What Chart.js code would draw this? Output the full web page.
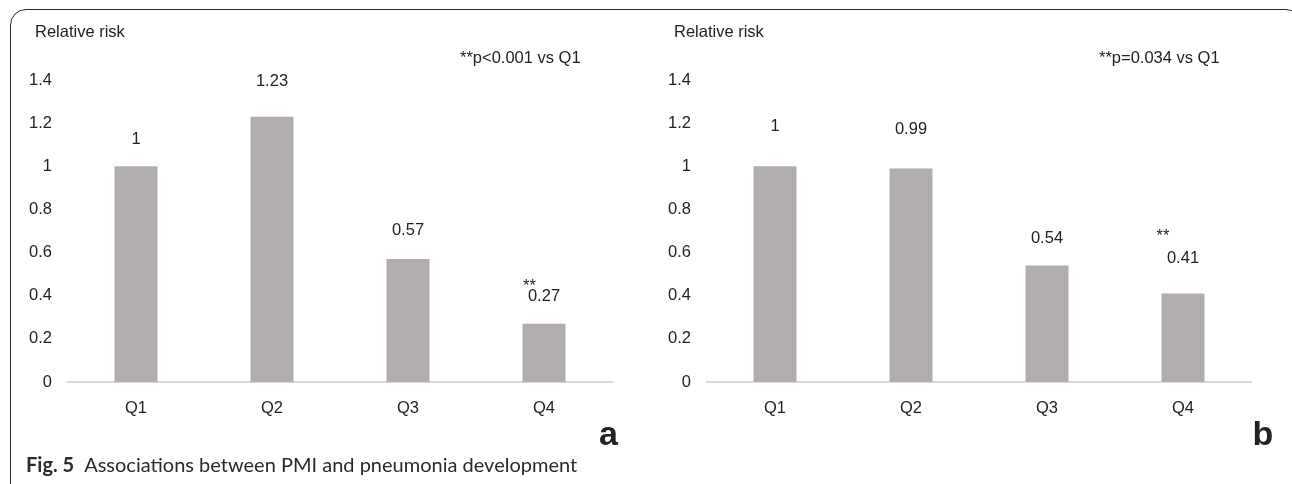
<!DOCTYPE html>
<html>
<head>
<meta charset="utf-8">
<title>Associations between PMI and pneumonia development</title>
<script src="https://cdn.jsdelivr.net/npm/chart.js@4.4.1/dist/chart.umd.min.js"></script>
<style>
  html, body { margin: 0; padding: 0; background: #ffffff; }
  body { width: 1292px; height: 484px; position: relative; overflow: hidden; }
  .frame {
    position: absolute; left: 10px; top: 9px; width: 1292px; height: 520px;
    border: 1.5px solid #2e2e2e; border-radius: 16px; box-sizing: border-box;
  }
  .panel { position: absolute; top: 0; width: 646px; height: 484px; }
  #panelA { left: 0; }
  #panelB { left: 639px; }
</style>
</head>
<body>
<div class="frame"></div>
<div class="panel" id="panelA"><canvas id="chartA" width="646" height="484"></canvas></div>
<div class="panel" id="panelB"><canvas id="chartB" width="646" height="484"></canvas></div>
<script>
// Quartile groups and relative risks of pneumonia
const categories = ['Q1', 'Q2', 'Q3', 'Q4'];
const riskA = [1, 1.23, 0.57, 0.27];
const riskB = [1, 0.99, 0.54, 0.41];
const sigA = ['', '', '', '**'];
const sigB = ['', '', '', '**'];
const noteA = '**p<0.001 vs Q1';
const noteB = '**p=0.034 vs Q1';
const yTickValues = [0, 0.2, 0.4, 0.6, 0.8, 1, 1.2, 1.4];
const axisTitle = 'Relative risk';
const captionBold = 'Fig. 5';
const captionText = 'Associations between PMI and pneumonia development';

// Label placement above each bar (px between bar top and text baseline)
const liftA = [22, 31, 24, 23];
const liftB = [35, 34.5, 22.5, 30.5];

const TEXT = '#222222';
const BAR = '#b1adac';
const AXIS = '#d9d9d9';
const FONT = '"Liberation Sans", Arial, Helvetica, sans-serif';

const annotate = {
  id: 'annotate',
  afterDraw(chart, args, o) {
    const ctx = chart.ctx;
    const ca = chart.chartArea;
    const meta = chart.getDatasetMeta(0);
    ctx.save();
    ctx.fillStyle = TEXT;
    ctx.font = '16.5px ' + FONT;
    ctx.textAlign = 'center';
    ctx.textBaseline = 'alphabetic';
    meta.data.forEach((bar, i) => {
      const v = chart.data.datasets[0].data[i];
      ctx.fillText(String(v), bar.x, bar.y - o.lift[i]);
      if (o.sig[i]) ctx.fillText(o.sig[i], bar.x + o.sigDx, bar.y - o.sigLift);
    });
    ctx.textAlign = 'left';
    ctx.textBaseline = 'middle';
    ctx.fillText(axisTitle, ca.left - 33, 32);
    ctx.fillText(o.note, ca.right - 152, 58.5);
    ctx.font = 'bold 34px ' + FONT;
    ctx.textBaseline = 'alphabetic';
    ctx.fillText(o.letter, o.letterX, 445);
    if (o.caption) {
      ctx.fillStyle = '#2a2a2a';
      ctx.font = 'bold 20px Lato, "Open Sans", sans-serif';
      ctx.fillText(captionBold, 26, 472);
      const w = ctx.measureText(captionBold).width;
      ctx.font = '20px Lato, "Open Sans", sans-serif';
      ctx.fillText(captionText, 26 + w + 10, 472);
    }
    ctx.restore();
  }
};

function makeChart(id, values, opts) {
  return new Chart(document.getElementById(id), {
    type: 'bar',
    data: {
      labels: categories,
      datasets: [{
        data: values,
        backgroundColor: BAR,
        borderWidth: 0,
        barPercentage: 0.316,
        categoryPercentage: 1
      }]
    },
    options: {
      responsive: false,
      animation: false,
      events: [],
      layout: { padding: { top: 80, right: 34, bottom: 0, left: 0 } },
      plugins: { legend: { display: false }, tooltip: { enabled: false }, annotate: opts },
      scales: {
        x: {
          grid: { display: false, drawTicks: false },
          border: { display: true, color: AXIS, width: 2 },
          ticks: { color: TEXT, font: { family: FONT, size: 16.5 }, padding: 17 },
          afterFit(s) { s.height = 102; }
        },
        y: {
          min: 0,
          max: 1.4,
          afterBuildTicks(s) { s.ticks = yTickValues.map(v => ({ value: v })); },
          grid: { display: false, drawTicks: false },
          border: { display: false },
          ticks: {
            color: TEXT,
            font: { family: FONT, size: 16.5 },
            padding: 16,
            callback: v => String(v)
          },
          afterFit(s) { s.width = 68; }
        }
      }
    },
    plugins: [annotate]
  });
}

makeChart('chartA', riskA, {
  lift: liftA, sig: sigA, sigDx: -14.5, sigLift: 32.4,
  note: noteA, letter: 'a', letterX: 599, caption: true
});
makeChart('chartB', riskB, {
  lift: liftB, sig: sigB, sigDx: -20, sigLift: 52.2,
  note: noteB, letter: 'b', letterX: 613.5, caption: false
});
</script>
</body>
</html>
